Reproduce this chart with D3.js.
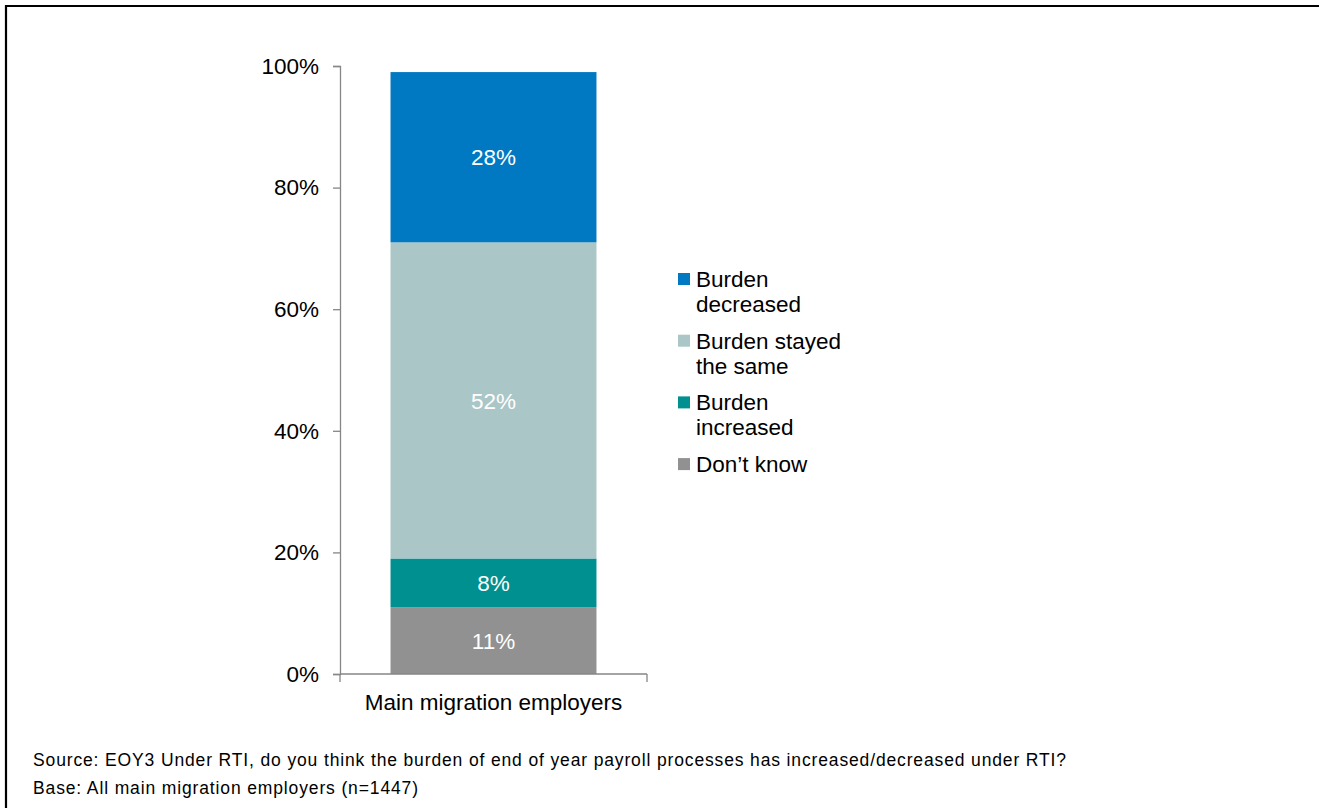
<!DOCTYPE html>
<html>
<head>
<meta charset="utf-8">
<script src="https://cdn.jsdelivr.net/npm/d3@7"></script>
<style>
  html, body { margin: 0; padding: 0; background: #fff; }
  svg { display: block; font-family: "Liberation Sans", Arial, sans-serif; }
</style>
</head>
<body>
<svg id="chart" width="1319" height="808"></svg>
<script>
// Survey responses, stacked bottom to top
const categories = ["Main migration employers"];
const seriesNames = ["Don\u2019t know", "Burden increased", "Burden stayed the same", "Burden decreased"];
const seriesValues = [11, 8, 52, 28];
const seriesColors = ["#919191", "#009090", "#ABC6C7", "#0079C2"];
const yTicks = [0, 0.2, 0.4, 0.6, 0.8, 1.0];

// Legend entries (top to bottom) with their wrapped lines
const legendLines = [
  ["Burden", "decreased"],
  ["Burden stayed", "the same"],
  ["Burden", "increased"],
  ["Don\u2019t know"]
];
const legendColors = ["#0079C2", "#ABC6C7", "#009090", "#919191"];

const sourceText = "Source: EOY3 Under RTI, do you think the burden of end of year payroll processes has increased/decreased under RTI?";
const baseText = "Base: All main migration employers (n=1447)";

const svg = d3.select("#chart");

// Frame around the figure
svg.append("path")
  .attr("d", "M6,808 V6 H1319")
  .attr("fill", "none")
  .attr("stroke", "#000")
  .attr("stroke-width", 2.2);

const y = d3.scaleLinear().domain([0, 1]).range([674, 66]);
const x = d3.scaleBand().domain(categories).range([340, 647]).padding(0.197);

// Stack the series
let cum = 0;
const stacked = seriesValues.map((v, i) => {
  const d = { name: seriesNames[i], value: v, color: seriesColors[i], y0: cum / 100, y1: (cum + v) / 100 };
  cum += v;
  return d;
});

const gBars = svg.append("g");
gBars.selectAll("rect")
  .data(stacked)
  .join("rect")
  .attr("x", x(categories[0]))
  .attr("width", x.bandwidth())
  .attr("y", d => y(d.y1))
  .attr("height", d => y(d.y0) - y(d.y1))
  .attr("fill", d => d.color);

gBars.selectAll("text")
  .data(stacked)
  .join("text")
  .attr("x", x(categories[0]) + x.bandwidth() / 2)
  .attr("y", d => (y(d.y0) + y(d.y1)) / 2)
  .attr("dy", "0.36em")
  .attr("text-anchor", "middle")
  .attr("fill", "#fff")
  .attr("font-size", 22.5)
  .text(d => d.value + "%");

// Y axis
const yAxis = svg.append("g")
  .attr("transform", "translate(340,0)")
  .call(d3.axisLeft(y).tickValues(yTicks).tickFormat(d3.format(".0%")).tickSize(7).tickPadding(14));
yAxis.select(".domain").attr("stroke", "#868686").attr("stroke-width", 1.3);
yAxis.selectAll(".tick line").attr("stroke", "#868686").attr("stroke-width", 1.3);
yAxis.selectAll(".tick text")
  .attr("font-size", 22.5)
  .attr("fill", "#000")
  .attr("font-family", "Liberation Sans, Arial, sans-serif");

// X axis
const xAxisG = svg.append("g").attr("transform", "translate(0,674)");
xAxisG.append("line")
  .attr("x1", 340).attr("x2", 647).attr("y1", 0).attr("y2", 0)
  .attr("stroke", "#868686").attr("stroke-width", 1.3);
xAxisG.selectAll("line.edge")
  .data(x.range())
  .join("line")
  .attr("class", "edge")
  .attr("x1", d => d).attr("x2", d => d)
  .attr("y1", 0).attr("y2", 8)
  .attr("stroke", "#868686").attr("stroke-width", 1.3);
xAxisG.selectAll("text")
  .data(categories)
  .join("text")
  .attr("x", d => x(d) + x.bandwidth() / 2)
  .attr("y", 36)
  .attr("text-anchor", "middle")
  .attr("font-size", 22.5)
  .attr("fill", "#000")
  .text(d => d);

// Legend
const legend = svg.append("g").attr("transform", "translate(678,287)");
const entries = legend.selectAll("g")
  .data(legendLines)
  .join("g")
  .attr("transform", (d, i) => `translate(0,${i * 61.7})`);
entries.append("rect")
  .attr("x", 0).attr("y", -14)
  .attr("width", 12).attr("height", 12)
  .attr("fill", (d, i) => legendColors[i]);
entries.append("text")
  .attr("x", 18)
  .attr("font-size", 22.5)
  .attr("fill", "#000")
  .selectAll("tspan")
  .data(d => d)
  .join("tspan")
  .attr("x", 18)
  .attr("dy", (d, i) => i === 0 ? 0 : 25)
  .text(d => d);

// Footnotes
svg.append("text")
  .attr("x", 33).attr("y", 766)
  .attr("font-size", 17.5)
  .attr("fill", "#000")
  .attr("textLength", 1033)
  .attr("lengthAdjust", "spacing")
  .text(sourceText);
svg.append("text")
  .attr("x", 33).attr("y", 794)
  .attr("font-size", 17.5)
  .attr("fill", "#000")
  .attr("textLength", 385)
  .attr("lengthAdjust", "spacing")
  .text(baseText);
</script>
</body>
</html>
